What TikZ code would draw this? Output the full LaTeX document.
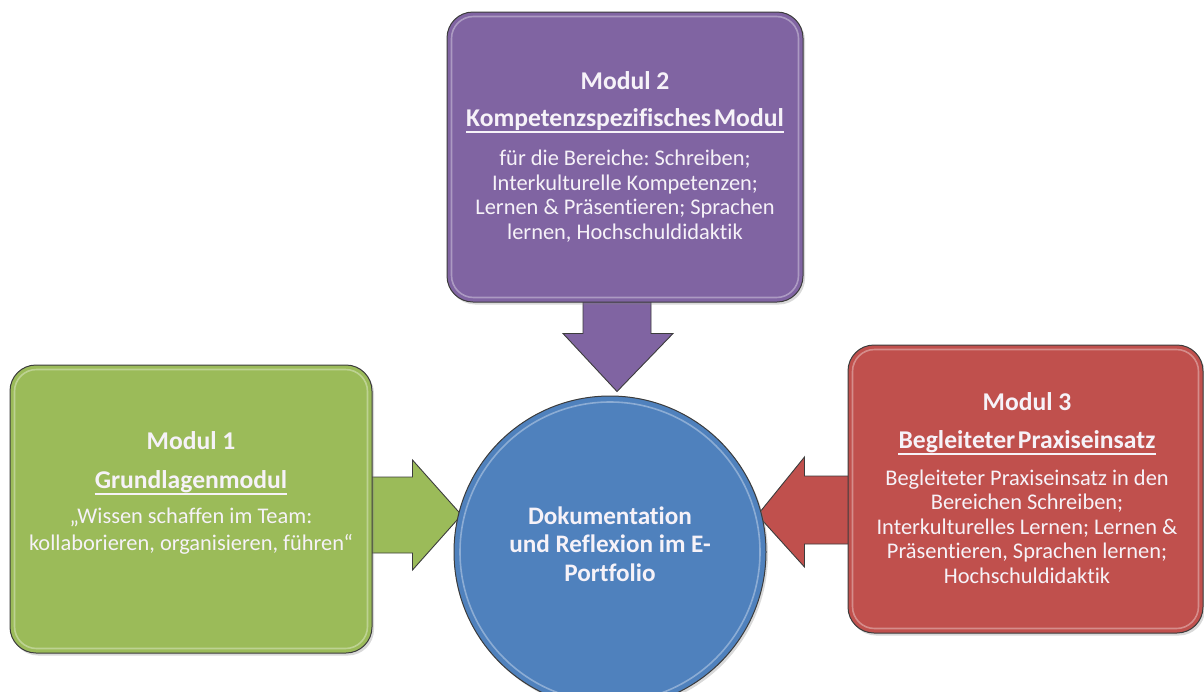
\documentclass[tikz,border=0pt]{standalone}
\usepackage{fontspec}
\setmainfont{Carlito}[RawFeature=-liga]
\frenchspacing
\usetikzlibrary{shadows,calc,backgrounds}
\definecolor{mgreen}{HTML}{9BBB59}
\definecolor{mpurple}{HTML}{8064A2}
\definecolor{mred}{HTML}{C0504D}
\definecolor{mblue}{HTML}{4F81BD}
\definecolor{edge}{HTML}{3C3C3C}
\definecolor{txt}{HTML}{F6F2F8}
\begin{document}
\begin{tikzpicture}[x=1pt,y=-1pt,
  modbox/.style={draw=edge, line width=1pt, rounded corners=26pt, fill=#1,
    drop shadow={shadow xshift=2pt, shadow yshift=-2.5pt, opacity=0.3}},
  gloss/.style={draw=white, draw opacity=0.35, line width=1.6pt, rounded corners=22pt},
  blockarrow/.style={draw=edge, line width=0.9pt, fill=#1, line join=miter},
  ttl/.style={inner sep=0pt, text=txt, font=\bfseries\fontsize{25.6}{30}\selectfont, anchor=base},
  bdy/.style={inner sep=0pt, text=txt, align=center, font=\fontsize{22.4}{24.5}\selectfont, anchor=base},
  ulin/.style={draw=txt, line width=1.3pt}]
\useasboundingbox (0,0) rectangle (1204,691);
% boxes
\node[modbox=mpurple, minimum width=356pt, minimum height=290pt] (m2) at (625,157) {};
\node[modbox=mgreen, minimum width=362pt, minimum height=288pt] (m1) at (191,509) {};
\node[modbox=mred, minimum width=355pt, minimum height=288pt] (m3) at (1025.5,489) {};
\node[circle, draw=edge, line width=1pt, fill=mblue, minimum size=312pt, inner sep=0pt,
  drop shadow={shadow xshift=2pt, shadow yshift=-2.5pt, opacity=0.3}] (c) at (610,552) {};
% gloss
\draw[gloss] ($(m2.north west)+(5,5)$) rectangle ($(m2.south east)+(-5,-5)$);
\draw[gloss] ($(m1.north west)+(5,5)$) rectangle ($(m1.south east)+(-5,-5)$);
\draw[gloss] ($(m3.north west)+(5,5)$) rectangle ($(m3.south east)+(-5,-5)$);
\draw[draw=white, draw opacity=0.35, line width=1.6pt] (c.center) circle[radius=150pt];
% arrows
\begin{scope}[on background layer]
\draw[blockarrow=mpurple] ($(m2.south)+(-42,-6)$) -- ++(0,37) -- ++(-20,0)
  -- ($(c.north)+(7,-4)$) -- ($(m2.south)+(48,31)$) -- ++(-22,0) -- ++(0,-37);
\draw[blockarrow=mgreen] ($(m1.east)+(-6,-32)$) -- ++(46,0) -- ++(0,-17)
  -- ($(c.west)+(8,-37)$) -- ($(m1.east)+(40,61)$) -- ++(0,-17) -- ++(-46,0);
\draw[blockarrow=mred] ($(m3.west)+(6,-13)$) -- ++(-49,0) -- ++(0,-19)
  -- ($(c.east)+(-9,-37)$) -- ($(m3.west)+(-43,78)$) -- ++(0,-23) -- ++(49,0);
\end{scope}
% texts module 2
\node[ttl] (m2a) at (625,89) {Modul 2};
\node[ttl] (m2b) at (625,126) {Kompetenzspezifisches\hspace{-0.12em} Modul};
\draw[ulin] ($(m2b.base west)+(0,6)$) -- ($(m2b.base east)+(0,6)$);
\node[bdy] (m2c) at (625,239) {für die Bereiche: Schreiben;\\Interkulturelle Kompetenzen;\\Lernen \& Präsentieren; Sprachen\\lernen, Hochschuldidaktik};
% module 1
\node[ttl] (m1a) at (191,449) {Modul 1};
\node[ttl] (m1b) at (191,488) {Grundlagenmodul};
\draw[ulin] ($(m1b.base west)+(0,6)$) -- ($(m1b.base east)+(0,6)$);
\node[bdy, font=\fontsize{22.4}{26.5}\selectfont] (m1c) at (191,550) {„Wissen schaffen im Team:\\kollaborieren, organisieren, führen“};
% module 3
\node[ttl] (m3a) at (1027,410) {Modul 3};
\node[ttl] (m3b) at (1027,448) {Begleiteter\hspace{-0.12em} Praxiseinsatz};
\draw[ulin] ($(m3b.base west)+(0,6)$) -- ($(m3b.base east)+(0,6)$);
\node[bdy] (m3c) at (1027,583) {Begleiteter Praxiseinsatz in den\\Bereichen Schreiben;\\Interkulturelles Lernen; Lernen \&\\Präsentieren, Sprachen lernen;\\Hochschuldidaktik};
% circle text
\node[ttl, align=center, font=\bfseries\fontsize{25.2}{28.5}\selectfont] (ct) at (610,581) {Dokumentation\\und Reflexion im E-\\Portfolio};
\end{tikzpicture}
\end{document}
